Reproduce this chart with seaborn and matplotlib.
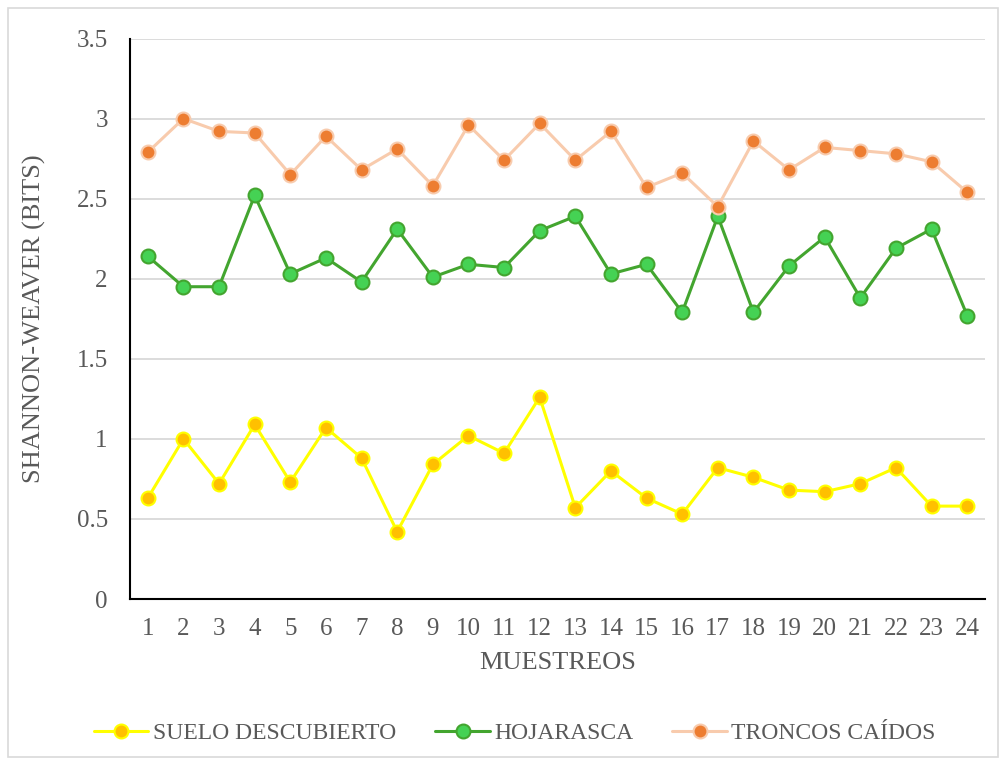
import matplotlib
matplotlib.use("Agg")
import matplotlib.pyplot as plt
import seaborn as sns
import pandas as pd
from matplotlib.patches import Rectangle

muestreos = list(range(1, 25))
suelo = [0.63, 1.00, 0.72, 1.09, 0.73, 1.07, 0.88, 0.42, 0.84, 1.02, 0.91, 1.26,
         0.57, 0.80, 0.63, 0.53, 0.82, 0.76, 0.68, 0.67, 0.72, 0.82, 0.58, 0.58]
hojarasca = [2.14, 1.95, 1.95, 2.52, 2.03, 2.13, 1.98, 2.31, 2.01, 2.09, 2.07, 2.30,
             2.39, 2.03, 2.09, 1.79, 2.39, 1.79, 2.08, 2.26, 1.88, 2.19, 2.31, 1.77]
troncos = [2.79, 3.00, 2.92, 2.91, 2.65, 2.89, 2.68, 2.81, 2.58, 2.96, 2.74, 2.97,
           2.74, 2.92, 2.57, 2.66, 2.45, 2.86, 2.68, 2.82, 2.80, 2.78, 2.73, 2.54]
series_names = ["SUELO DESCUBIERTO", "HOJARASCA", "TRONCOS CAÍDOS"]
y_ticks = [0, 0.5, 1, 1.5, 2, 2.5, 3, 3.5]

sns.set_theme(style="white")
plt.rcParams["font.family"] = ["Liberation Serif", "DejaVu Serif"]
text_color = "#595959"

fig = plt.figure(figsize=(10.06, 7.65), dpi=100)
ax = fig.add_axes([130 / 1006, 1 - 599 / 765, (985 - 130) / 1006, (599 - 38.5) / 765])

styles = [
    dict(line="#FFFF00", face="#FFC000", edge="#FFFF00"),
    dict(line="#43A52F", face="#45D254", edge="#43A52F"),
    dict(line="#F8CBAD", face="#ED7D31", edge="#F8CBAD"),
]
for name, vals, st in zip(series_names, [suelo, hojarasca, troncos], styles):
    df = pd.DataFrame({"x": muestreos, "y": vals})
    sns.lineplot(data=df, x="x", y="y", ax=ax, color=st["line"], linewidth=2.2,
                 marker="o", markersize=10, markerfacecolor=st["face"],
                 markeredgecolor=st["edge"], markeredgewidth=1.5, label=name, zorder=3)

ax.set_xlim(0.5, 24.5)
ax.set_ylim(0, 3.5)
ax.set_yticks(y_ticks)
ax.set_yticklabels(["0", "0.5", "1", "1.5", "2", "2.5", "3", "3.5"])
ax.set_xticks(muestreos)
ax.set_xticklabels([str(m) for m in muestreos])
ax.grid(axis="y", color="#D9D9D9", linewidth=1.3, zorder=0)
ax.grid(axis="x", visible=False)
for s in ["top", "right"]:
    ax.spines[s].set_visible(False)
ax.spines["left"].set_color("black")
ax.spines["bottom"].set_color("black")
ax.spines["left"].set_linewidth(1.5)
ax.spines["bottom"].set_linewidth(1.5)
ax.tick_params(axis="both", labelsize=18, colors=text_color, length=0)
ax.tick_params(axis="x", pad=14)
ax.tick_params(axis="y", pad=16)
ax.set_xlabel("MUESTREOS", fontsize=19, color=text_color, labelpad=8)
ax.set_ylabel("SHANNON-WEAVER (BITS)", fontsize=19, color=text_color, labelpad=22)

ax.get_legend().remove()
handles, labels = ax.get_legend_handles_labels()
leg = fig.legend(handles, labels, loc="center", bbox_to_anchor=(515 / 1006, 1 - 733 / 765),
                 ncol=3, frameon=False, fontsize=17, handlelength=2.3,
                 columnspacing=1.65, handletextpad=0.2)
for t in leg.get_texts():
    t.set_color(text_color)

fig.patches.append(Rectangle((8 / 1006, 8 / 765), 990 / 1006, 749 / 765,
                             transform=fig.transFigure, fill=False,
                             edgecolor="#D9D9D9", linewidth=1.2))

fig.savefig("out.png", dpi=100)
